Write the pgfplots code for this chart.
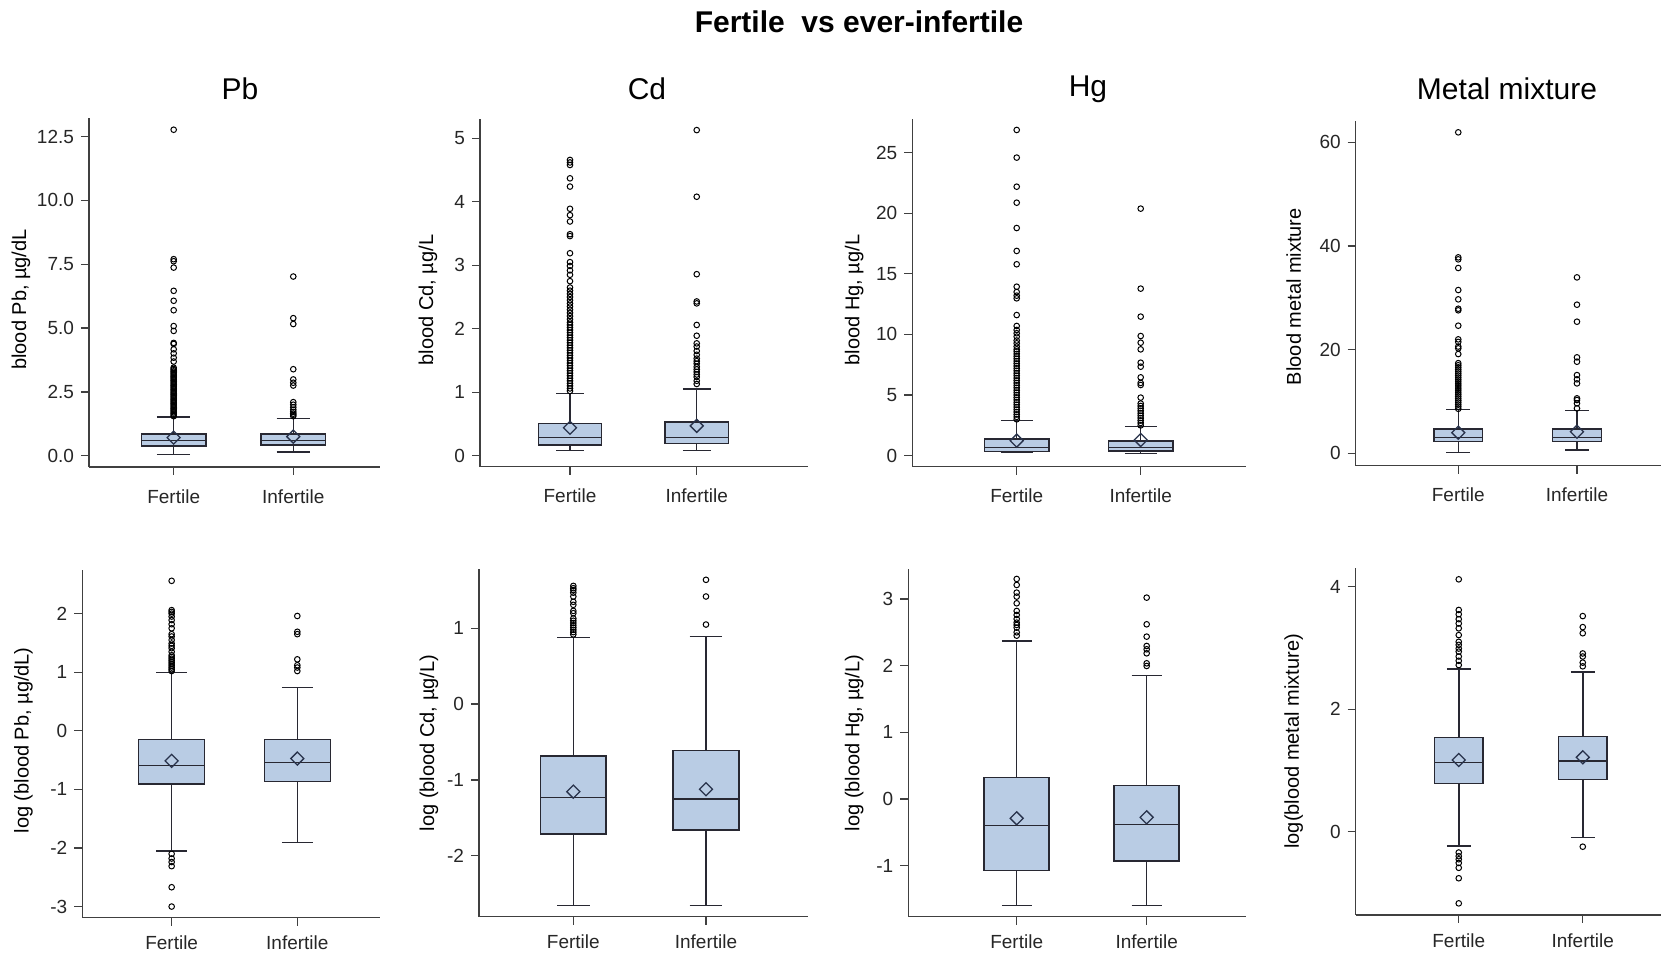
\documentclass[border=0pt]{standalone}
\usepackage{fontspec}
\setmainfont{Liberation Sans}
\usepackage{pgfplots}
\pgfplotsset{compat=1.18}
\usepgfplotslibrary{statistics}
\definecolor{boxfill}{RGB}{185,204,228}
\definecolor{edgec}{RGB}{40,40,50}
\definecolor{meanc}{RGB}{40,50,75}
\pgfplotsset{
  panel/.style={
    scale only axis,
    axis x line*=bottom, axis y line*=left,
    axis line style={-, line width=0.75pt, draw=black!75},
    tick style={line width=0.65pt, black!75},
    tick align=outside,
    major tick length=4pt,
    xtick={1,2}, xticklabels={Fertile,Infertile},
    ticklabel style={font=\fontsize{9.5}{11}\selectfont, text=black!85},
    label style={font=\fontsize{10}{12}\selectfont},
    clip=false,
    boxplot/draw direction=y,
  },
  toprow/.style={xticklabel style={yshift=-3.7pt}},
  botrow/.style={xticklabel style={yshift=-1.6pt}},
  bx/.style={boxplot prepared={#1}, draw=edgec, fill=boxfill, line width=0.75pt, mark=o, mark size=1.4pt, mark options={draw=black, fill=none, line width=0.5pt, solid}},
  mn/.style={only marks, mark=square, mark size=2.3pt, mark options={rotate=45, draw=meanc, fill=none, line width=0.65pt}},
}
\begin{document}
\begin{tikzpicture}
\path[use as bounding box] (0,0) rectangle (830.5pt,476.5pt);
\node[font=\fontsize{15}{18}\selectfont\bfseries] at (429.5pt,465.5pt) {Fertile\ \ vs ever-infertile};
\node[font=\fontsize{15}{18}\selectfont] at (120pt,432pt) {Pb};
\node[font=\fontsize{15}{18}\selectfont] at (323.5pt,432pt) {Cd};
\node[font=\fontsize{15}{18}\selectfont] at (544pt,432pt) {Hg};
\node[font=\fontsize{15}{18}\selectfont] at (753.5pt,432pt) {Metal mixture};

% ---------- Pb ----------
\begin{axis}[panel, toprow, at={(44.5pt,243pt)}, anchor=south west, width=145.5pt, height=174.5pt,
  xmin=0.292, xmax=2.725, ymin=-0.44, ymax=13.23,
  ytick={0,2.5,5,7.5,10,12.5}, yticklabels={0.0,2.5,5.0,7.5,10.0,12.5},
  ylabel={blood Pb, µg/dL}, ylabel style={at={(axis description cs:-0.234,0.48)}, anchor=center},
  boxplot/box extend=0.54, boxplot/whisker extend=0.28]
\addplot[bx={draw position=1, lower whisker=0.05, lower quartile=0.38, median=0.59, upper quartile=0.85, upper whisker=1.52}]
 table[row sep=\\, y index=0, header=false] {1.55\\1.6\\1.65\\1.7\\1.75\\1.8\\1.85\\1.9\\1.95\\2.0\\2.05\\2.1\\2.15\\2.2\\2.25\\2.3\\2.35\\2.4\\2.45\\2.5\\2.55\\2.6\\2.65\\2.7\\2.75\\2.8\\2.85\\2.9\\2.95\\3.0\\3.05\\3.1\\3.15\\3.2\\3.25\\3.3\\3.35\\3.4\\3.45\\3.69\\3.84\\4.01\\4.17\\4.38\\4.42\\4.89\\5.08\\5.7\\6.07\\6.46\\7.37\\7.62\\7.7\\12.77\\};
\addplot[bx={draw position=2, lower whisker=0.14, lower quartile=0.42, median=0.59, upper quartile=0.85, upper whisker=1.46}]
 table[row sep=\\, y index=0, header=false] {1.55\\1.6\\1.65\\1.72\\1.8\\1.9\\2.0\\2.1\\2.75\\2.86\\2.99\\3.39\\5.16\\5.39\\7.02\\};
\addplot[mn] coordinates {(1,0.71) (2,0.75)};
\end{axis}

% ---------- Cd ----------
\begin{axis}[panel, toprow, at={(240pt,243.15pt)}, anchor=south west, width=164pt, height=173.7pt,
  xmin=0.29, xmax=2.878, ymin=-0.173, ymax=5.30,
  ytick={0,1,2,3,4,5}, yticklabels={0,1,2,3,4,5},
  ylabel={blood Cd, µg/L}, ylabel style={at={(axis description cs:-0.159,0.48)}, anchor=center},
  boxplot/box extend=0.5, boxplot/whisker extend=0.22]
\addplot[bx={draw position=1, lower whisker=0.079, lower quartile=0.168, median=0.284, upper quartile=0.51, upper whisker=0.98}]
 table[row sep=\\, y index=0, header=false] {1.02\\1.06\\1.1\\1.14\\1.18\\1.22\\1.26\\1.3\\1.34\\1.38\\1.42\\1.46\\1.5\\1.54\\1.58\\1.62\\1.66\\1.7\\1.74\\1.78\\1.82\\1.86\\1.9\\1.94\\1.98\\2.02\\2.06\\2.1\\2.15\\2.2\\2.25\\2.3\\2.35\\2.4\\2.45\\2.5\\2.55\\2.6\\2.65\\2.75\\2.85\\2.92\\2.99\\3.05\\3.19\\3.46\\3.49\\3.69\\3.79\\3.89\\4.24\\4.37\\4.58\\4.62\\4.66\\};
\addplot[bx={draw position=2, lower whisker=0.079, lower quartile=0.194, median=0.284, upper quartile=0.53, upper whisker=1.05}]
 table[row sep=\\, y index=0, header=false] {1.13\\1.18\\1.24\\1.28\\1.32\\1.36\\1.40\\1.45\\1.49\\1.53\\1.59\\1.65\\1.72\\1.77\\1.89\\2.06\\2.40\\2.43\\2.86\\4.08\\5.13\\};
\addplot[mn] coordinates {(1,0.44) (2,0.47)};
\end{axis}

% ---------- Hg ----------
\begin{axis}[panel, toprow, at={(456.15pt,243.15pt)}, anchor=south west, width=166.7pt, height=173.7pt,
  xmin=0.158, xmax=2.847, ymin=-0.91, ymax=27.75,
  ytick={0,5,10,15,20,25}, yticklabels={0,5,10,15,20,25},
  ylabel={blood Hg, µg/L}, ylabel style={at={(axis description cs:-0.174,0.48)}, anchor=center},
  boxplot/box extend=0.52, boxplot/whisker extend=0.256]
\addplot[bx={draw position=1, lower whisker=0.25, lower quartile=0.33, median=0.69, upper quartile=1.38, upper whisker=2.89}]
 table[row sep=\\, y index=0, header=false] {3.0\\3.2\\3.4\\3.6\\3.8\\4.0\\4.2\\4.4\\4.6\\4.8\\5.0\\5.2\\5.4\\5.6\\5.8\\6.0\\6.2\\6.4\\6.6\\6.8\\7.0\\7.2\\7.4\\7.6\\7.8\\8.0\\8.2\\8.4\\8.6\\8.77\\9.0\\9.27\\9.5\\9.82\\10.1\\10.37\\10.7\\11.6\\12.98\\13.2\\13.5\\13.94\\15.79\\16.89\\18.78\\20.87\\22.19\\24.59\\26.87\\};
\addplot[bx={draw position=2, lower whisker=0.19, lower quartile=0.39, median=0.66, upper quartile=1.21, upper whisker=2.39}]
 table[row sep=\\, y index=0, header=false] {2.5\\2.7\\2.9\\3.1\\3.3\\3.5\\3.7\\3.9\\4.1\\4.3\\4.79\\5.83\\6.0\\6.46\\7.34\\7.67\\8.77\\9.32\\9.87\\11.47\\13.78\\20.38\\};
\addplot[mn] coordinates {(1,1.24) (2,1.29)};
\end{axis}

% ---------- Metal mixture ----------
\begin{axis}[panel, toprow, at={(677.85pt,243.65pt)}, anchor=south west, width=152.65pt, height=172.5pt,
  xmin=0.136, xmax=2.708, ymin=-2.38, ymax=64.18,
  ytick={0,20,40,60}, yticklabels={0,20,40,60},
  ylabel={Blood metal mixture}, ylabel style={at={(axis description cs:-0.203,0.49)}, anchor=center},
  boxplot/box extend=0.41, boxplot/whisker extend=0.2]
\addplot[bx={draw position=1, lower whisker=0.19, lower quartile=2.25, median=3.02, upper quartile=4.69, upper whisker=8.49}]
 table[row sep=\\, y index=0, header=false] {8.6\\9.0\\9.4\\9.8\\10.2\\10.6\\11.0\\11.4\\11.8\\12.2\\12.6\\13.0\\13.4\\13.8\\14.2\\14.6\\15.0\\15.4\\15.8\\16.2\\16.6\\17.0\\17.4\\19.16\\20.26\\20.6\\21.5\\21.99\\24.63\\27.6\\27.9\\29.71\\31.51\\35.76\\37.43\\37.81\\61.93\\};
\addplot[bx={draw position=2, lower whisker=0.64, lower quartile=2.25, median=3.02, upper quartile=4.69, upper whisker=8.23}]
 table[row sep=\\, y index=0, header=false] {8.68\\9.65\\10.29\\10.61\\13.5\\14.28\\15.1\\17.68\\18.52\\25.4\\28.68\\33.95\\};
\addplot[mn] coordinates {(1,3.99) (2,4.18)};
\end{axis}

% ---------- log Pb ----------
\begin{axis}[panel, botrow, at={(41.15pt,17.65pt)}, anchor=south west, width=148.85pt, height=173.85pt,
  xmin=0.289, xmax=2.658, ymin=-3.19, ymax=2.745,
  ytick={-3,-2,-1,0,1,2}, yticklabels={-3,-2,-1,0,1,2},
  ylabel={log (blood Pb, µg/dL)}, ylabel style={at={(axis description cs:-0.198,0.51)}, anchor=center},
  boxplot/box extend=0.525, boxplot/whisker extend=0.244]
\addplot[bx={draw position=1, lower whisker=-2.05, lower quartile=-0.912, median=-0.588, upper quartile=-0.15, upper whisker=0.993}]
 table[row sep=\\, y index=0, header=false] {1.02\\1.05\\1.08\\1.11\\1.14\\1.17\\1.2\\1.23\\1.26\\1.29\\1.35\\1.41\\1.45\\1.49\\1.55\\1.61\\1.65\\1.75\\1.82\\1.89\\1.95\\2.0\\2.03\\2.06\\2.56\\-2.10\\-2.18\\-2.24\\-2.31\\-2.67\\-3.0\\};
\addplot[bx={draw position=2, lower whisker=-1.91, lower quartile=-0.867, median=-0.537, upper quartile=-0.15, upper whisker=0.743}]
 table[row sep=\\, y index=0, header=false] {1.02\\1.08\\1.12\\1.22\\1.65\\1.69\\1.96\\};
\addplot[mn] coordinates {(1,-0.514) (2,-0.474)};
\end{axis}

% ---------- log Cd ----------
\begin{axis}[panel, botrow, at={(239.5pt,18.15pt)}, anchor=south west, width=164.5pt, height=173.7pt,
  xmin=0.289, xmax=2.769, ymin=-2.805, ymax=1.779,
  ytick={-2,-1,0,1}, yticklabels={-2,-1,0,1},
  ylabel={log (blood Cd, µg/L)}, ylabel style={at={(axis description cs:-0.152,0.5)}, anchor=center},
  boxplot/box extend=0.495, boxplot/whisker extend=0.246]
\addplot[bx={draw position=1, lower whisker=-2.66, lower quartile=-1.714, median=-1.234, upper quartile=-0.684, upper whisker=0.877}]
 table[row sep=\\, y index=0, header=false] {0.92\\0.95\\0.98\\1.01\\1.04\\1.07\\1.10\\1.13\\1.2\\1.23\\1.31\\1.35\\1.42\\1.47\\1.505\\1.53\\1.56\\};
\addplot[bx={draw position=2, lower whisker=-2.66, lower quartile=-1.66, median=-1.25, upper quartile=-0.615, upper whisker=0.89}]
 table[row sep=\\, y index=0, header=false] {1.05\\1.42\\1.64\\};
\addplot[mn] coordinates {(1,-1.155) (2,-1.124)};
\end{axis}

% ---------- log Hg ----------
\begin{axis}[panel, botrow, at={(454.15pt,18.15pt)}, anchor=south west, width=168.7pt, height=173.7pt,
  xmin=0.166, xmax=2.762, ymin=-1.765, ymax=3.445,
  ytick={-1,0,1,2,3}, yticklabels={-1,0,1,2,3},
  ylabel={log (blood Hg, µg/L)}, ylabel style={at={(axis description cs:-0.16,0.5)}, anchor=center},
  boxplot/box extend=0.5, boxplot/whisker extend=0.23]
\addplot[bx={draw position=1, lower whisker=-1.60, lower quartile=-1.075, median=-0.40, upper quartile=0.325, upper whisker=2.37}]
 table[row sep=\\, y index=0, header=false] {2.45\\2.5\\2.57\\2.61\\2.645\\2.7\\2.76\\2.82\\2.935\\3.035\\3.095\\3.21\\3.30\\};
\addplot[bx={draw position=2, lower whisker=-1.60, lower quartile=-0.93, median=-0.38, upper quartile=0.20, upper whisker=1.855}]
 table[row sep=\\, y index=0, header=false] {1.995\\2.035\\2.185\\2.245\\2.295\\2.435\\2.62\\3.02\\};
\addplot[mn] coordinates {(1,-0.29) (2,-0.275)};
\end{axis}

% ---------- log metal mixture ----------
\begin{axis}[panel, botrow, at={(677.85pt,19pt)}, anchor=south west, width=152.65pt, height=173.65pt,
  xmin=0.169, xmax=2.631, ymin=-1.36, ymax=4.31,
  ytick={0,2,4}, yticklabels={0,2,4},
  ylabel={log(blood metal mixture)}, ylabel style={at={(axis description cs:-0.203,0.5)}, anchor=center},
  boxplot/box extend=0.39, boxplot/whisker extend=0.19]
\addplot[bx={draw position=1, lower whisker=-0.234, lower quartile=0.789, median=1.132, upper quartile=1.535, upper whisker=2.66}]
 table[row sep=\\, y index=0, header=false] {2.72\\2.79\\2.86\\2.94\\2.99\\3.05\\3.10\\3.21\\3.32\\3.40\\3.47\\3.55\\3.62\\4.12\\-0.34\\-0.40\\-0.45\\-0.51\\-0.59\\-0.76\\-1.17\\};
\addplot[bx={draw position=2, lower whisker=-0.098, lower quartile=0.854, median=1.154, upper quartile=1.556, upper whisker=2.61}]
 table[row sep=\\, y index=0, header=false] {-0.245\\2.70\\2.76\\2.86\\2.91\\3.24\\3.34\\3.52\\};
\addplot[mn] coordinates {(1,1.17) (2,1.214)};
\end{axis}
\end{tikzpicture}
\end{document}
